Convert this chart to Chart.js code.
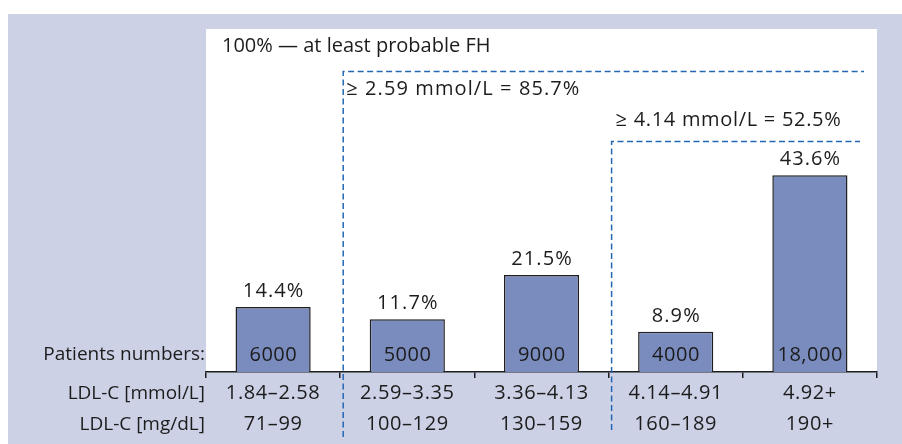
<!DOCTYPE html>
<html>
<head>
<meta charset="utf-8">
<script src="https://cdn.jsdelivr.net/npm/chart.js@4.4.1/dist/chart.umd.min.js"></script>
<style>
  html, body { margin: 0; padding: 0; background: #ffffff; }
  #wrap { width: 902px; height: 444px; position: relative; }
</style>
</head>
<body>
<div id="wrap"><canvas id="c" width="902" height="444"></canvas></div>
<script>
// ---- data ----
const mmolLabels = ["1.84–2.58", "2.59–3.35", "3.36–4.13", "4.14–4.91", "4.92+"];
const mgLabels = ["71–99", "100–129", "130–159", "160–189", "190+"];
const percentValues = [14.4, 11.7, 21.5, 8.9, 43.6];
const patientNumbers = ["6000", "5000", "9000", "4000", "18,000"];
const rowTitles = ["Patients numbers:", "LDL-C [mmol/L]", "LDL-C [mg/dL]"];
const bracketTexts = ["100% — at least probable FH", "≥ 2.59 mmol/L = 85.7%", "≥ 4.14 mmol/L = 52.5%"];

const FONT = "'Open Sans', 'DejaVu Sans', sans-serif";
const TEXT = "#1c1c1c";
const PANEL = "#ccd1e6";
const DASH = "#2467b4";

const labels = mmolLabels.map((m, i) => [m, mgLabels[i]]);

function txt(ctx, s, x, y, spacing) {
  ctx.letterSpacing = spacing + 'px';
  let dx = 0;
  if (ctx.textAlign === 'center') dx = spacing / 2;
  ctx.fillText(s, x + dx, y);
}

const decor = {
  id: 'decor',
  beforeDraw(chart) {
    const ctx = chart.ctx, a = chart.chartArea;
    ctx.save();
    ctx.fillStyle = '#ffffff';
    ctx.fillRect(0, 0, chart.width, chart.height);
    ctx.fillStyle = PANEL;
    ctx.fillRect(8, 14, chart.width - 8, chart.height - 14);
    ctx.fillStyle = '#ffffff';
    ctx.fillRect(a.left, a.top, a.right - a.left, a.bottom - a.top);
    ctx.restore();
    // slight tracking for the axis tick labels
    ctx.letterSpacing = '0.6px';
  },
  afterDraw(chart) {
    const ctx = chart.ctx, a = chart.chartArea;
    const x = chart.scales.x, y = chart.scales.y;
    const meta = chart.getDatasetMeta(0);
    ctx.save();
    ctx.font = "20px " + FONT;
    ctx.fillStyle = TEXT;
    ctx.textBaseline = 'middle';

    // bar labels
    ctx.textAlign = 'center';
    meta.data.forEach((bar, i) => {
      txt(ctx, percentValues[i].toFixed(1) + '%', bar.x, bar.y - 16, 1.1);
      txt(ctx, patientNumbers[i], bar.x, a.bottom - 17, 0.5);
    });

    // row titles
    ctx.font = "19px " + FONT;
    ctx.textAlign = 'right';
    txt(ctx, rowTitles[0], a.left - 1, a.bottom - 17, 0);
    txt(ctx, rowTitles[1], a.left - 1, a.bottom + 22, 0);
    txt(ctx, rowTitles[2], a.left - 1, a.bottom + 53, 0);

    // brackets
    const step = (x.getPixelForValue(1) - x.getPixelForValue(0));
    const b1 = x.getPixelForValue(0) + step / 2 + 3;
    const b2 = x.getPixelForValue(2) + step / 2 + 3;
    const y1 = y.getPixelForValue(66.6);
    const y2 = y.getPixelForValue(51.1);
    ctx.strokeStyle = DASH;
    ctx.lineWidth = 1.5;
    ctx.setLineDash([6, 3.5]);
    ctx.beginPath();
    ctx.moveTo(b1, a.bottom + 65);
    ctx.lineTo(b1, y1);
    ctx.lineTo(a.right - 13, y1);
    ctx.moveTo(b2, a.bottom + 58);
    ctx.lineTo(b2, y2);
    ctx.lineTo(a.right - 17, y2);
    ctx.stroke();
    ctx.setLineDash([]);

    ctx.font = "20px " + FONT;
    ctx.textAlign = 'left';
    txt(ctx, bracketTexts[0], a.left + 16, a.top + 17, 0);
    txt(ctx, bracketTexts[1], b1 + 3, y1 + 18, 1.1);
    txt(ctx, bracketTexts[2], b2 + 4, y2 - 21, 0.7);
    ctx.restore();
    ctx.letterSpacing = '0px';
  }
};

new Chart(document.getElementById('c'), {
  type: 'bar',
  data: {
    labels: labels,
    datasets: [{
      data: percentValues,
      backgroundColor: '#7a8bbe',
      borderColor: '#1e1e1e',
      borderWidth: 1.5,
      barPercentage: 0.56,
      categoryPercentage: 1.0
    }]
  },
  options: {
    responsive: false,
    animation: false,
    devicePixelRatio: 1,
    layout: { padding: { left: 206, right: 25, top: 29, bottom: 0 } },
    plugins: { legend: { display: false }, tooltip: { enabled: false }, title: { display: false } },
    scales: {
      y: { display: false, min: 0, max: 76 },
      x: {
        offset: true,
        afterFit(s) { s.height = 72; },
        grid: { display: true, drawOnChartArea: false, drawTicks: true, tickLength: 6, color: '#1e1e1e', lineWidth: 1.5, offset: true },
        border: { display: true, color: '#1e1e1e', width: 1.5 },
        ticks: { color: TEXT, font: { family: FONT, size: 20, lineHeight: '31px' }, padding: 0, maxRotation: 0, autoSkip: false }
      }
    }
  },
  plugins: [decor]
});
</script>
</body>
</html>
